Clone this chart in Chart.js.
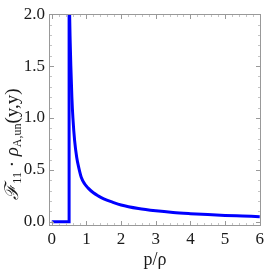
<!DOCTYPE html>
<html lang="en">
<head>
<meta charset="UTF-8">
<title>F11 rho A,un</title>
<script src="https://cdn.jsdelivr.net/npm/chart.js@4.4.0/dist/chart.umd.min.js"></script>
<style>
  body { margin: 0; background: #fff; }
  #plot { display: block; }
</style>
</head>
<body>
<canvas id="plot" width="267" height="270"></canvas>
<script>
// values
const stepX = [0, 0.5, 0.5];
const stepY = [0, 0, 2.3];
const curveX = [0.505, 0.515, 0.53, 0.55, 0.58, 0.61, 0.66, 0.72, 0.78, 0.85, 0.95, 1.05, 1.2, 1.35, 1.5, 1.75, 2.0, 2.5, 3.0, 3.5, 4.0, 4.5, 5.0, 5.5, 6.0];
const curveY = [2.3, 2.0, 1.75, 1.5, 1.2, 1.0, 0.78, 0.62, 0.52, 0.43, 0.365, 0.325, 0.28, 0.248, 0.222, 0.19, 0.162, 0.128, 0.106, 0.09, 0.079, 0.07, 0.062, 0.056, 0.05];
const xTicks = [0, 1, 2, 3, 4, 5, 6];
const yTicks = [0, 0.5, 1, 1.5, 2];
const xTitle = 'p/ρ';
// y title pieces: text, size, italic, baseline shift
const yTitle = [
    ['ℱ', 19, true, 0],
    ['11', 12, false, 3],
    [' · ', 19, false, 0],
    ['ρ', 19, true, 0],
    ['A,un', 12, false, 3],
    ['(y,y)', 19, false, 0]
];

const SERIF = '"Liberation Serif", "DejaVu Serif", serif';
const FRAME = '#999';

function toPoints(xs, ys) {
    return xs.map((x, i) => ({x: x, y: ys[i]}));
}

// frame with inward ticks on all four sides, plus the rotated y title
const framePlugin = {
    id: 'frame',
    afterDraw(chart) {
        const ctx = chart.ctx;
        const a = chart.chartArea;
        const xs = chart.scales.x, ys = chart.scales.y;
        const L = Math.round(a.left) + 0.5, R = Math.round(a.right) - 0.5;
        const T = Math.round(a.top) + 0.5, B = Math.round(a.bottom) - 0.5;
        ctx.save();
        ctx.lineWidth = 1;

        // minor ticks
        ctx.strokeStyle = '#c4c4c4';
        ctx.beginPath();
        for (let i = 0; i <= 30; i++) {
            if (i % 5 === 0) continue;
            const px = Math.round(xs.getPixelForValue(i * 0.2)) + 0.5;
            ctx.moveTo(px, B); ctx.lineTo(px, B - 2.5);
            ctx.moveTo(px, T); ctx.lineTo(px, T + 2.5);
        }
        for (let i = 0; i <= 20; i++) {
            if (i % 5 === 0) continue;
            const py = Math.round(ys.getPixelForValue(i * 0.1)) + 0.5;
            ctx.moveTo(L, py); ctx.lineTo(L + 2.5, py);
            ctx.moveTo(R, py); ctx.lineTo(R - 2.5, py);
        }
        ctx.stroke();

        // major ticks
        ctx.strokeStyle = FRAME;
        ctx.beginPath();
        xTicks.forEach(v => {
            const px = Math.round(xs.getPixelForValue(v)) + 0.5;
            ctx.moveTo(px, B); ctx.lineTo(px, B - 4.5);
            ctx.moveTo(px, T); ctx.lineTo(px, T + 4.5);
        });
        yTicks.forEach(v => {
            const py = Math.round(ys.getPixelForValue(v)) + 0.5;
            ctx.moveTo(L, py); ctx.lineTo(L + 4.5, py);
            ctx.moveTo(R, py); ctx.lineTo(R - 4.5, py);
        });
        ctx.stroke();
        ctx.strokeRect(L, T, R - L, B - T);

        // y axis title
        let total = 0;
        yTitle.forEach(p => {
            ctx.font = (p[2] ? 'italic ' : '') + p[1] + 'px ' + SERIF;
            total += ctx.measureText(p[0]).width;
        });
        ctx.translate(18, 144);
        ctx.rotate(-Math.PI / 2);
        ctx.fillStyle = '#1a1a1a';
        ctx.textBaseline = 'alphabetic';
        let cx = -total / 2;
        yTitle.forEach(p => {
            ctx.font = (p[2] ? 'italic ' : '') + p[1] + 'px ' + SERIF;
            ctx.fillText(p[0], cx, p[3]);
            cx += ctx.measureText(p[0]).width;
        });
        ctx.restore();
    }
};

new Chart(document.getElementById('plot'), {
    type: 'scatter',
    data: {
        datasets: [
            {
                data: toPoints(stepX, stepY),
                showLine: true,
                borderColor: '#0000ff',
                borderWidth: 3,
                pointRadius: 0,
                tension: 0
            },
            {
                data: toPoints(curveX, curveY),
                showLine: true,
                borderColor: '#0000ff',
                borderWidth: 3,
                pointRadius: 0,
                cubicInterpolationMode: 'monotone'
            }
        ]
    },
    options: {
        responsive: false,
        animation: false,
        layout: { padding: { top: 8, right: 1.5, left: 0, bottom: 0 } },
        plugins: {
            legend: { display: false },
            tooltip: { enabled: false }
        },
        scales: {
            x: {
                type: 'linear',
                min: -0.08,
                max: 6.04,
                grid: { display: false, drawTicks: false },
                border: { display: false },
                afterBuildTicks: s => { s.ticks = xTicks.map(v => ({value: v})); },
                afterFit: s => { s.height = 44; },
                ticks: {
                    padding: 3,
                    color: '#1a1a1a',
                    font: { family: SERIF, size: 17 },
                    callback: v => String(v)
                },
                title: {
                    display: true,
                    text: xTitle,
                    color: '#1a1a1a',
                    font: { family: SERIF, size: 18, lineHeight: 1 },
                    padding: { top: 0, bottom: 1 }
                }
            },
            y: {
                type: 'linear',
                min: -0.04,
                max: 2.0,
                grid: { display: false, drawTicks: false },
                border: { display: false },
                afterBuildTicks: s => { s.ticks = yTicks.map(v => ({value: v})); },
                afterFit: s => { s.width = 49; },
                ticks: {
                    padding: 4,
                    color: '#1a1a1a',
                    font: { family: SERIF, size: 17 },
                    callback: v => v.toFixed(1)
                }
            }
        }
    },
    plugins: [framePlugin]
});
</script>
</body>
</html>
